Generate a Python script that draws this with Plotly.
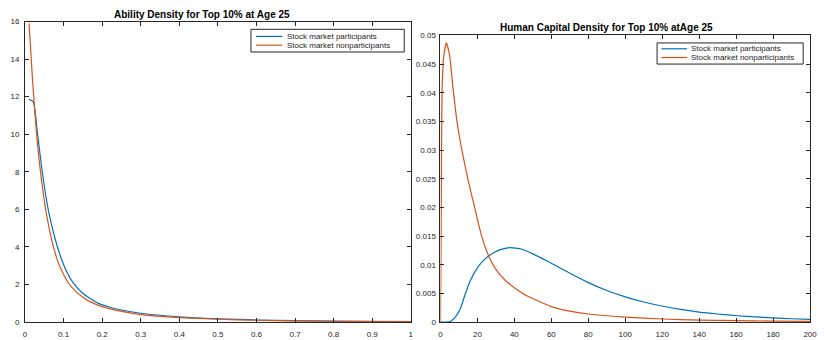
import plotly.graph_objects as go

# ---- Ability density (left panel) ----
ability_part_x = [0.0103, 0.0215, 0.0326, 0.0445, 0.060, 0.077, 0.094, 0.110, 0.124, 0.150,
                  0.188, 0.220, 0.250, 0.300, 0.400, 0.500, 0.600, 0.700, 0.800, 0.900, 1.000]
ability_part_y = [11.86, 11.72, 10.0, 8.0, 6.0, 4.5, 3.37, 2.60, 2.11, 1.52,
                  1.02, 0.79, 0.64, 0.47, 0.28, 0.175, 0.11, 0.072, 0.048, 0.033, 0.023]

ability_non_x = [0.0103, 0.020, 0.030, 0.040, 0.055, 0.070, 0.085, 0.094, 0.111, 0.130,
                 0.150, 0.167, 0.200, 0.250, 0.300, 0.400, 0.500, 0.600, 0.700, 0.800,
                 0.900, 1.000]
ability_non_y = [15.9, 12.7, 10.0, 8.0, 5.8, 4.3, 3.23, 2.78, 2.12, 1.66,
                 1.32, 1.10, 0.82, 0.57, 0.40, 0.24, 0.15, 0.095, 0.062, 0.042,
                 0.029, 0.020]

# ---- Human capital density (right panel) ----
hc_part_x = [0, 3, 5.4, 8, 10.7, 13, 16.1, 20.5, 23.5, 26.8, 32, 37.5, 44, 50, 58, 66, 78.6,
             90, 100, 110, 119.7, 130, 141, 150, 160.7, 170, 180, 190, 200]
hc_part_y = [0, 0, 0.0001, 0.00085, 0.00227, 0.0045, 0.0072, 0.0097, 0.0108, 0.0117, 0.0126,
             0.0130, 0.0127, 0.0119, 0.0106, 0.0092, 0.0071, 0.0055, 0.0044, 0.0035, 0.0028,
             0.0022, 0.0017, 0.0014, 0.0011, 0.0009, 0.00072, 0.00058, 0.00046]

hc_non_x = [0, 0.3, 0.6, 0.9, 1.8, 3.2, 5.0, 6.8, 8.9, 11.6, 15.0, 18.8, 22.3, 26.4, 30,
            35, 40, 45, 50, 60, 70, 80, 100, 120, 140, 160, 180, 200]
hc_non_y = [0, 0.012, 0.030, 0.0408, 0.0464, 0.0487, 0.0464, 0.0408, 0.0351, 0.0300, 0.0247,
            0.0196, 0.0150, 0.0113, 0.0092, 0.0073, 0.0060, 0.0049, 0.0041, 0.0027, 0.0019,
            0.0014, 0.00085, 0.00053, 0.00035, 0.00024, 0.00017, 0.00012]

series_names = ["Stock market participants", "Stock market nonparticipants"]
colors = ["#0072BD", "#D95319"]
titles = ["Ability Density for Top 10% at Age 25", "Human Capital Density for Top 10% atAge 25"]

left_xticks = [0, 0.1, 0.2, 0.3, 0.4, 0.5, 0.6, 0.7, 0.8, 0.9, 1]
left_yticks = [0, 2, 4, 6, 8, 10, 12, 14, 16]
right_xticks = [0, 20, 40, 60, 80, 100, 120, 140, 160, 180, 200]
right_yticks = [0, 0.005, 0.01, 0.015, 0.02, 0.025, 0.03, 0.035, 0.04, 0.045, 0.05]

W, H = 824, 340
FONT = "Liberation Sans, Arial, Helvetica, sans-serif"
INK = "#262626"


def px(x):
    return x / W


def py(y):
    return 1 - y / H


fig = go.Figure()

line_style = dict(width=1.2, shape="spline", smoothing=0.5)
fig.add_trace(go.Scatter(x=ability_part_x, y=ability_part_y, mode="lines",
                         line=dict(color=colors[0], **line_style), xaxis="x", yaxis="y",
                         name=series_names[0], showlegend=False))
fig.add_trace(go.Scatter(x=ability_non_x, y=ability_non_y, mode="lines",
                         line=dict(color=colors[1], **line_style), xaxis="x", yaxis="y",
                         name=series_names[1], showlegend=False))
fig.add_trace(go.Scatter(x=hc_part_x, y=hc_part_y, mode="lines",
                         line=dict(color=colors[0], **line_style),
                         xaxis="x2", yaxis="y2", name=series_names[0], showlegend=False))
fig.add_trace(go.Scatter(x=hc_non_x, y=hc_non_y, mode="lines",
                         line=dict(color=colors[1], **line_style),
                         xaxis="x2", yaxis="y2", name=series_names[1], showlegend=False))

axis_common = dict(showgrid=False, zeroline=False, showline=True, linecolor=INK, linewidth=1,
                   mirror="ticks", ticks="inside", ticklen=4, tickcolor=INK, tickwidth=1,
                   tickfont=dict(family=FONT, size=8, color=INK))

fig.update_layout(
    width=W, height=H, autosize=False,
    margin=dict(l=0, r=0, t=0, b=0),
    paper_bgcolor="white", plot_bgcolor="white",
    xaxis=dict(domain=[px(23.3), px(413.3)], range=[0, 1], tickvals=left_xticks,
               ticktext=[f"{v:g}" for v in left_xticks], anchor="y",
               ticklabelstandoff=4, **axis_common),
    yaxis=dict(domain=[py(326.7), py(18)], range=[0, 16], tickvals=left_yticks,
               anchor="x", ticklabelstandoff=3, **axis_common),
    xaxis2=dict(domain=[px(443.3), px(817)], range=[0, 200], tickvals=right_xticks,
                anchor="y2", ticklabelstandoff=4, **axis_common),
    yaxis2=dict(domain=[py(326.7), py(32.3)], range=[0, 0.05], tickvals=right_yticks,
                ticktext=[f"{v:g}" for v in right_yticks], anchor="x2",
                ticklabelstandoff=2, **axis_common),
    showlegend=False,
)

# panel titles
for text, cx, cy in [(titles[0], 202, 11), (titles[1], 611, 24)]:
    fig.add_annotation(text=f"<b>{text}</b>", xref="paper", yref="paper", x=px(cx), y=py(cy),
                       xanchor="center", yanchor="middle", showarrow=False,
                       font=dict(family=FONT, size=10, color="black"))

# legend boxes for each panel
legend_boxes = [
    dict(x0=251.7, x1=406.7, y0=26, y1=49.3, rows=[33.3, 42.3], lx0=256.7, lx1=283.3, tx=286),
    dict(x0=662.3, x1=810, y0=40, y1=61.7, rows=[46, 55], lx0=666.7, lx1=692.7, tx=695),
]
for box in legend_boxes:
    fig.add_shape(type="rect", xref="paper", yref="paper",
                  x0=px(box["x0"]), x1=px(box["x1"]), y0=py(box["y1"]), y1=py(box["y0"]),
                  line=dict(color=INK, width=1), fillcolor="white", layer="above")
    for i, ry in enumerate(box["rows"]):
        fig.add_shape(type="line", xref="paper", yref="paper",
                      x0=px(box["lx0"]), x1=px(box["lx1"]), y0=py(ry), y1=py(ry),
                      line=dict(color=colors[i], width=1.2), layer="above")
        fig.add_annotation(text=series_names[i], xref="paper", yref="paper",
                           x=px(box["tx"]), y=py(ry), xanchor="left", yanchor="middle",
                           showarrow=False, font=dict(family=FONT, size=8, color=INK))

fig.write_html("out.html")
